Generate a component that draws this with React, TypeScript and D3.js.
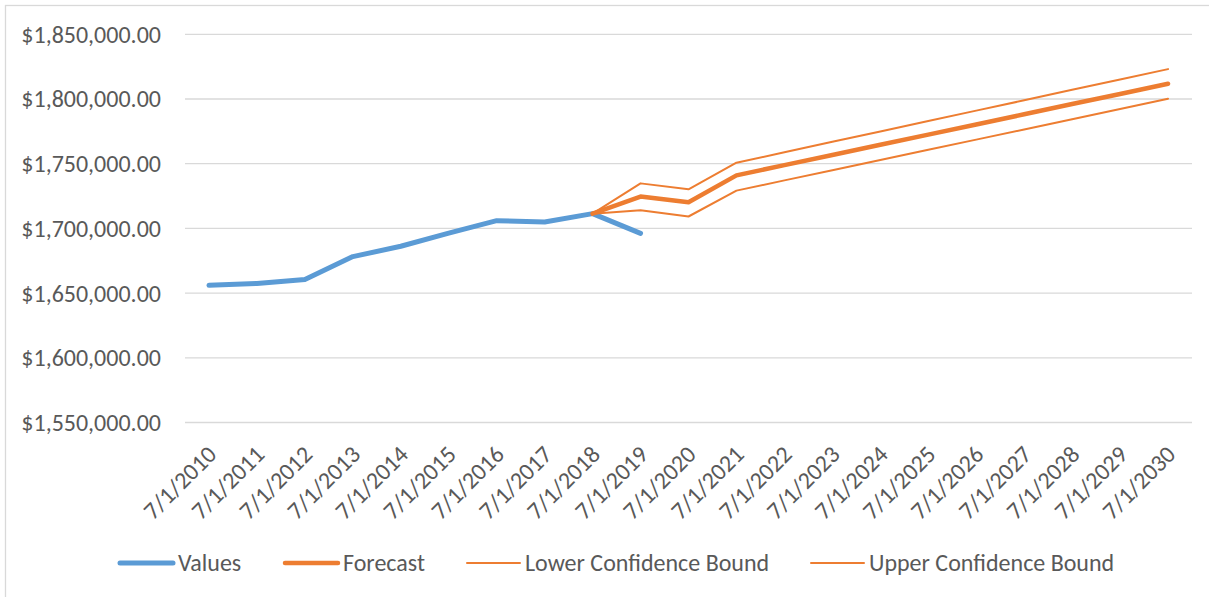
import React from 'react';
import * as d3 from 'd3';

// categories (x axis)
const dates = [
  '7/1/2010', '7/1/2011', '7/1/2012', '7/1/2013', '7/1/2014', '7/1/2015', '7/1/2016',
  '7/1/2017', '7/1/2018', '7/1/2019', '7/1/2020', '7/1/2021', '7/1/2022', '7/1/2023',
  '7/1/2024', '7/1/2025', '7/1/2026', '7/1/2027', '7/1/2028', '7/1/2029', '7/1/2030',
];

// series values, null where a series has no point
const values = [
  1656000, 1657500, 1660500, 1678200, 1686200, 1696400, 1706000, 1704900, 1711400, 1696200,
  null, null, null, null, null, null, null, null, null, null, null,
];
const forecast = [
  null, null, null, null, null, null, null, null, 1711400, 1724600,
  1720200, 1741000, 1748900, 1756700, 1764600, 1772500, 1780300, 1788200, 1796100, 1803900, 1811800,
];
const lowerBound = [
  null, null, null, null, null, null, null, null, 1711400, 1714100,
  1709200, 1729200, 1737100, 1745000, 1752900, 1760800, 1768600, 1776500, 1784400, 1792300, 1800200,
];
const upperBound = [
  null, null, null, null, null, null, null, null, 1711400, 1734800,
  1730200, 1750800, 1758800, 1766900, 1774900, 1783000, 1791000, 1799000, 1807100, 1815100, 1823100,
];

const yTicks = [1550000, 1600000, 1650000, 1700000, 1750000, 1800000, 1850000];

const legendItems = ['Values', 'Forecast', 'Lower Confidence Bound', 'Upper Confidence Bound'];

const BLUE = '#5B9BD5';
const ORANGE = '#ED7D31';
const GRID = '#d9d9d9';
const TEXT = '#595959';
const FONT = 'Carlito, Calibri, "Open Sans", sans-serif';
const FS = 24;

export default function App() {
  const width = 1209;
  const height = 597;
  const plot = { left: 185, right: 1192, top: 34.3, bottom: 422.5 };

  const x = d3.scalePoint<string>().domain(dates).range([plot.left, plot.right]).padding(0.5);
  const y = d3.scaleLinear().domain([1550000, 1850000]).range([plot.bottom, plot.top]);
  const fmt = d3.format('$,.2f');

  const line = d3.line<number | null>()
    .defined((d) => d != null)
    .x((d, i) => x(dates[i]) as number)
    .y((d) => y(d as number));

  const series = [
    { name: 'Values', data: values, color: BLUE, width: 5 },
    { name: 'Forecast', data: forecast, color: ORANGE, width: 4.5 },
    { name: 'Lower Confidence Bound', data: lowerBound, color: ORANGE, width: 2 },
    { name: 'Upper Confidence Bound', data: upperBound, color: ORANGE, width: 2 },
  ];

  // legend positions measured from left edge of each swatch
  const legendX = [120, 285, 467, 811];
  const legendY = 563;

  return (
    <svg width={width} height={height}
      style={{ position: 'absolute', left: 0, top: 0, background: '#fff' }}
      fontFamily={FONT}>
      <rect x={5.5} y={5.5} width={width + 20} height={height + 20} fill="#fff" stroke={GRID} strokeWidth={1.3} />

      {/* gridlines */}
      {yTicks.map((t) => (
        <line key={t} x1={plot.left} x2={plot.right} y1={y(t)} y2={y(t)} stroke={GRID} strokeWidth={1.3} />
      ))}

      {/* y axis labels */}
      {yTicks.map((t) => (
        <text key={'l' + t} x={161} y={y(t)} dy="0.35em" textAnchor="end" fontSize={FS} fill={TEXT}>
          {fmt(t)}
        </text>
      ))}

      {/* x axis labels */}
      {dates.map((d) => (
        <text key={d} transform={`translate(${(x(d) as number) + 3}, 450) rotate(-45)`}
          dy="0.35em" textAnchor="end" fontSize={FS} fill={TEXT}>
          {d}
        </text>
      ))}

      {/* lines */}
      {series.map((s) => (
        <path key={s.name} d={line(s.data) || ''} fill="none" stroke={s.color} strokeWidth={s.width}
          strokeLinecap="round" strokeLinejoin="round" />
      ))}

      {/* legend */}
      {series.map((s, i) => (
        <g key={'lg' + i} transform={`translate(${legendX[i]}, ${legendY})`}>
          <line x1={0} x2={53} y1={0} y2={0} stroke={s.color} strokeWidth={s.width} strokeLinecap="round" />
          <text x={58} y={0} dy="0.35em" fontSize={FS} fill={TEXT}>{legendItems[i]}</text>
        </g>
      ))}
    </svg>
  );
}
